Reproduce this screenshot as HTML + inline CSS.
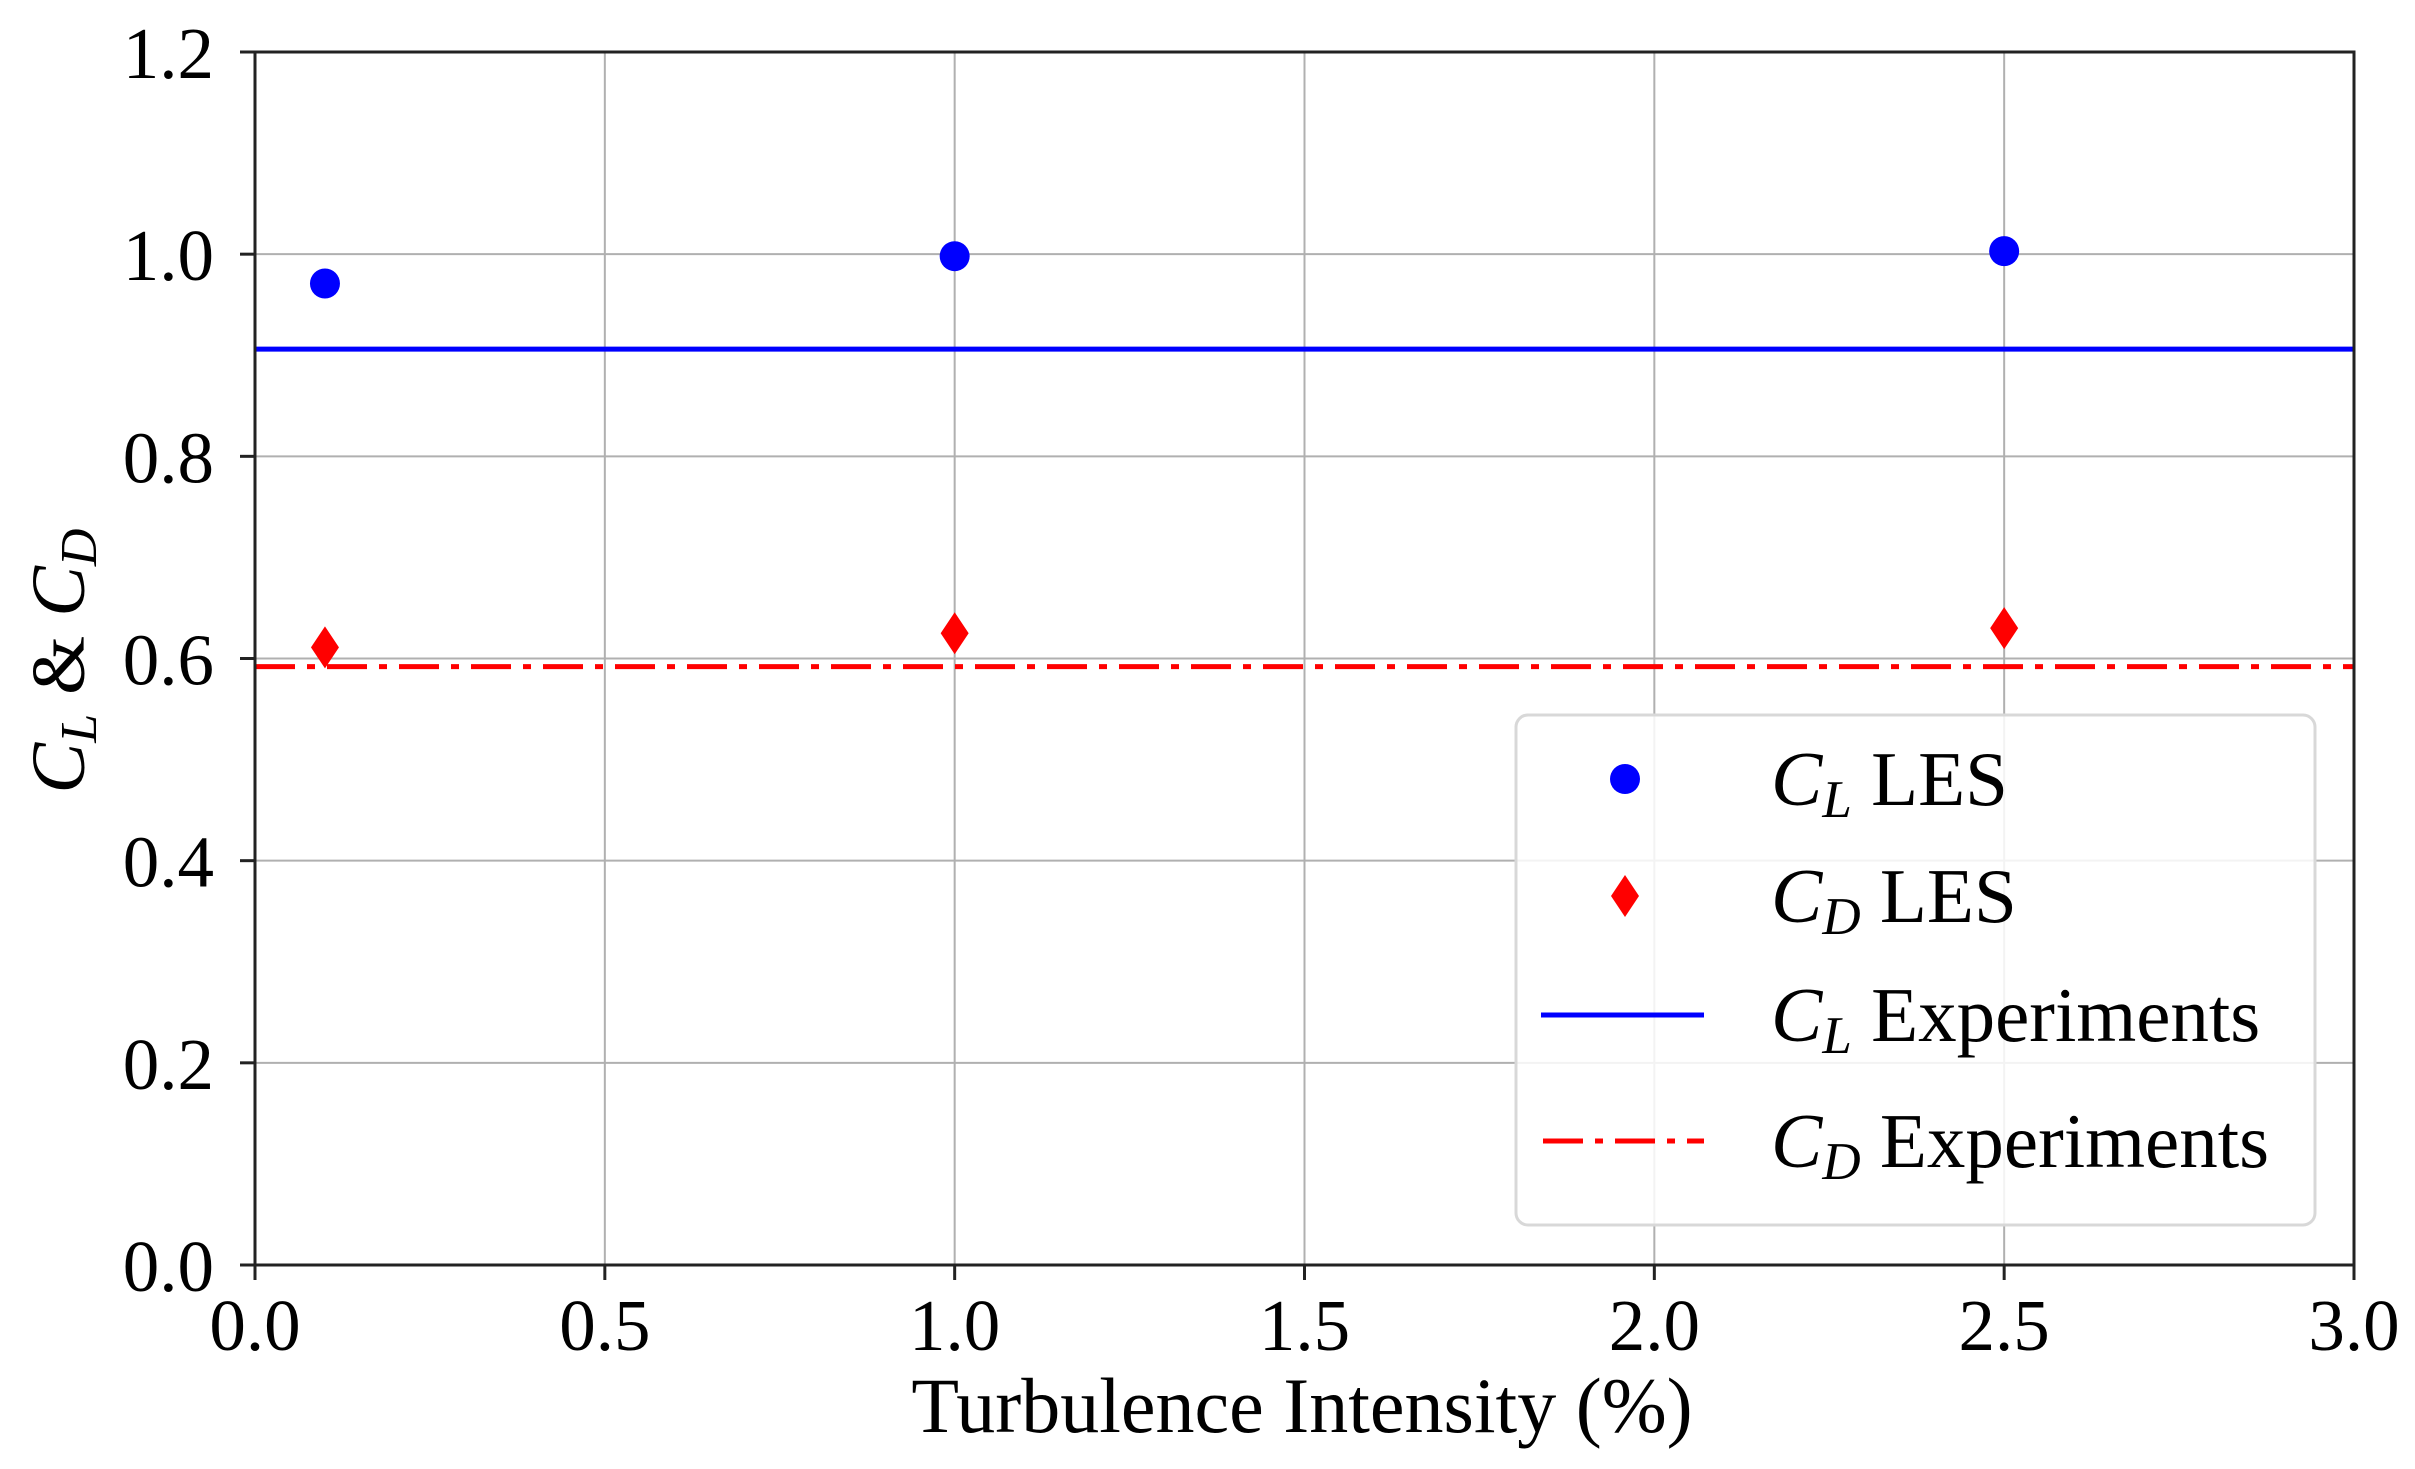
<!DOCTYPE html>
<html><head><meta charset="utf-8"><style>
html,body{margin:0;padding:0;background:#fff;}
svg{display:block;font-family:"Liberation Serif",serif;}
</style></head><body>
<svg id="chart" width="2415" height="1469" viewBox="0 0 2415 1469">
<g id="grid"></g>
<g id="series"></g>
<rect x="255" y="52" width="2099" height="1213" fill="none" stroke="#222" stroke-width="3"/>
<g id="ticks"></g>
<text x="1302" y="1432" font-size="78" text-anchor="middle">Turbulence Intensity (%)</text>
<text transform="translate(84,661) rotate(-90)" font-size="76" text-anchor="middle"><tspan font-style="italic">C</tspan><tspan font-style="italic" font-size="52" dy="12">L</tspan><tspan dy="-12"> &amp; </tspan><tspan font-style="italic">C</tspan><tspan font-style="italic" font-size="52" dy="12">D</tspan></text>
<g>
<rect x="1516" y="715" width="799" height="510" rx="12" fill="#fff" fill-opacity="0.85" stroke="#d8d8d8" stroke-width="3"/>
<circle cx="1625" cy="779" r="15" fill="#0000ff"/>
<path d="M1625 875 L1639 896 L1625 917 L1611 896 Z" fill="#ff0000"/>
<line x1="1541" y1="1015" x2="1704" y2="1015" stroke="#0000ff" stroke-width="5"/>
<line x1="1543" y1="1141" x2="1704" y2="1141" stroke="#ff0000" stroke-width="5" stroke-dasharray="40 12 8 12"/>
<text x="1771" y="805" font-size="77"><tspan font-style="italic">C</tspan><tspan font-style="italic" font-size="53" dy="12">L</tspan><tspan dy="-12"> LES</tspan></text>
<text x="1771" y="922" font-size="77"><tspan font-style="italic">C</tspan><tspan font-style="italic" font-size="53" dy="12">D</tspan><tspan dy="-12"> LES</tspan></text>
<text x="1771" y="1041" font-size="77"><tspan font-style="italic">C</tspan><tspan font-style="italic" font-size="53" dy="12">L</tspan><tspan dy="-12"> Experiments</tspan></text>
<text x="1771" y="1167" font-size="77"><tspan font-style="italic">C</tspan><tspan font-style="italic" font-size="53" dy="12">D</tspan><tspan dy="-12"> Experiments</tspan></text>
</g>
</svg>
<script>
const xTicks = [0.0, 0.5, 1.0, 1.5, 2.0, 2.5, 3.0];
const xTickLabels = ["0.0","0.5","1.0","1.5","2.0","2.5","3.0"];
const yTicks = [0.0, 0.2, 0.4, 0.6, 0.8, 1.0, 1.2];
const yTickLabels = ["0.0","0.2","0.4","0.6","0.8","1.0","1.2"];
const turbulence = [0.1, 1.0, 2.5];
const clLES = [0.971, 0.998, 1.003];
const cdLES = [0.611, 0.625, 0.630];
const clExp = 0.906;
const cdExp = 0.592;

const NS = "http://www.w3.org/2000/svg";
const X0 = 255, X1 = 2354, Y0 = 1265, Y1 = 52;
const xs = v => X0 + (v - 0) / 3.0 * (X1 - X0);
const ys = v => Y0 - (v - 0) / 1.2 * (Y0 - Y1);
function mk(tag, attrs, parent) {
  const e = document.createElementNS(NS, tag);
  for (const k in attrs) e.setAttribute(k, attrs[k]);
  parent.appendChild(e);
  return e;
}
const grid = document.getElementById('grid');
const ticks = document.getElementById('ticks');
const series = document.getElementById('series');

xTicks.forEach((t, i) => {
  const g = mk('line', {x1: xs(t), x2: xs(t), y1: Y1, y2: Y0, stroke: '#b0b0b0', 'stroke-width': 2}, grid);
  
  
  const tk = mk('line', {x1: xs(t), x2: xs(t), y1: Y0, y2: Y0 + 15, stroke: '#222', 'stroke-width': 3}, ticks);
  
  
  const lb = mk('text', {x: xs(t), y: 1350, 'font-size': 73, 'text-anchor': 'middle'}, ticks);
  lb.textContent = xTickLabels[i];
  
  
});
yTicks.forEach((t, i) => {
  const g = mk('line', {x1: X0, x2: X1, y1: ys(t), y2: ys(t), stroke: '#b0b0b0', 'stroke-width': 2}, grid);
  
  
  const tk = mk('line', {x1: X0 - 15, x2: X0, y1: ys(t), y2: ys(t), stroke: '#222', 'stroke-width': 3}, ticks);
  
  
  const lb = mk('text', {x: 214, y: ys(t) + 26, 'font-size': 73, 'text-anchor': 'end'}, ticks);
  lb.textContent = yTickLabels[i];
  
  
});

const l1 = mk('line', {x1: X0, x2: X1, y1: ys(clExp), y2: ys(clExp), stroke: '#0000ff', 'stroke-width': 5}, series);


const l2 = mk('line', {x1: X0, x2: X1, y1: ys(cdExp), y2: ys(cdExp), stroke: '#ff0000', 'stroke-width': 5, 'stroke-dasharray': '40 12 8 12'}, series);



turbulence.forEach((t, i) => {
  const c = mk('circle', {cx: xs(t), cy: ys(clLES[i]), r: 15, fill: '#0000ff'}, series);
  
  
  const x = xs(t), y = ys(cdLES[i]);
  const d = mk('path', {d: `M${x} ${y-21} L${x+14} ${y} L${x} ${y+21} L${x-14} ${y} Z`, fill: '#ff0000'}, series);
  
  
});
</script>
</body></html>
